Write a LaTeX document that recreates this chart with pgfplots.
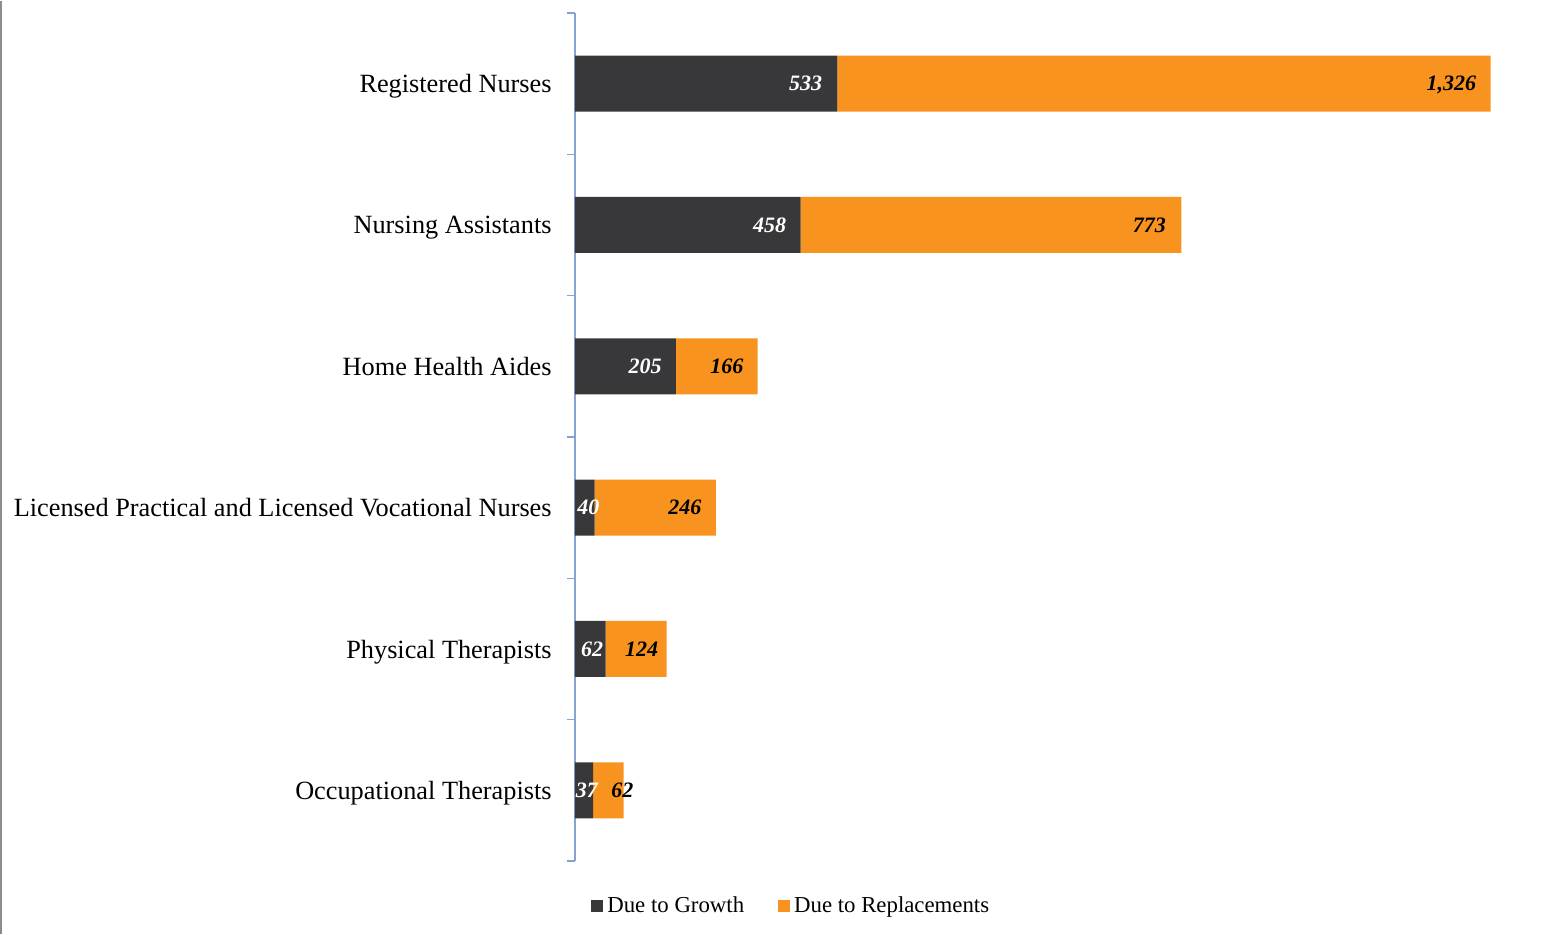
\documentclass[border=0pt]{standalone}
\usepackage{fontspec}
\setmainfont{Liberation Serif}
\usepackage{pgfplots}
\usepackage{pgfplotstable}
\pgfplotsset{compat=1.18}
\definecolor{growth}{RGB}{56,56,58}
\definecolor{repl}{RGB}{247,147,30}
\definecolor{axisblue}{RGB}{133,164,212}
\pgfplotstableread{
idx growth repl glab rlab gs rs
0 37 62 37 62 2.5 5
1 62 124 62 124 -1 -4
2 40 246 40 246 2.5 -7
3 205 166 205 166 -7 -7
4 458 773 458 773 -7 -7.5
5 533 1326 533 1,326 -7.5 -7
}\data
\begin{document}
\begin{tikzpicture}
\begin{axis}[
  scale only axis, width=492.5pt, height=424pt,
  xbar stacked, bar width=28pt,
  xmin=0, xmax=2000, ymin=-0.5, ymax=5.5,
  clip=false,
  axis x line=none, axis y line*=left,
  axis line style={draw=axisblue, line width=0.75pt},
  ytick={0,...,5},
  yticklabels={Occupational Therapists, Physical Therapists, Licensed Practical and Licensed Vocational Nurses, Home Health Aides, Nursing Assistants, Registered Nurses},
  minor ytick={-0.5,0.5,...,5.5},
  tick align=outside, major tick length=0pt, minor tick length=4pt,
  major tick style={draw=none},
  minor tick style={draw=axisblue, line width=0.75pt},
  yticklabel style={font=\fontsize{13.15}{15}\selectfont, inner sep=0pt, text depth=0pt, xshift=-11.5pt},
  legend style={at={(rel axis cs:0.01624,-0.05307)}, anchor=west, draw=none, fill=none, inner sep=0pt,
    font=\fontsize{11.4}{13}\selectfont,
    /tikz/every odd column/.append style={column sep=0pt},
    /tikz/every even column/.append style={column sep=15pt}},
  legend columns=2,
]
\addplot[fill=growth, draw=none, point meta=explicit symbolic, nodes near coords,
  visualization depends on={\thisrow{gs}+0.123125*\thisrow{growth} \as \shg},
  every node near coord/.append style={anchor=east, inner sep=0pt, text depth=0pt, xshift=\shg pt, text=white, font=\fontsize{11}{13}\selectfont\bfseries\itshape},
  legend image code/.code={\fill[growth] (0pt,-3pt) rectangle (6pt,3pt);}]
  table[x=growth, y=idx, meta=glab] {\data};
\addlegendentry{Due to Growth}
\addplot[fill=repl, draw=none, point meta=explicit symbolic, nodes near coords,
  visualization depends on={\thisrow{rs}+0.123125*\thisrow{repl} \as \shr},
  every node near coord/.append style={anchor=east, inner sep=0pt, text depth=0pt, xshift=\shr pt, text=black, font=\fontsize{11}{13}\selectfont\bfseries\itshape},
  legend image code/.code={\fill[repl] (0pt,-3pt) rectangle (6pt,3pt);}]
  table[x=repl, y=idx, meta=rlab] {\data};
\addlegendentry{Due to Replacements}
\draw[black!45, line width=1pt] (rel axis cs:-0.58274,-0.08608) -- (rel axis cs:-0.58274,1.01415);
\path (rel axis cs:-0.58376,-0.08608) rectangle (rel axis cs:1.00406,1.01415);
\end{axis}
\end{tikzpicture}
\end{document}
